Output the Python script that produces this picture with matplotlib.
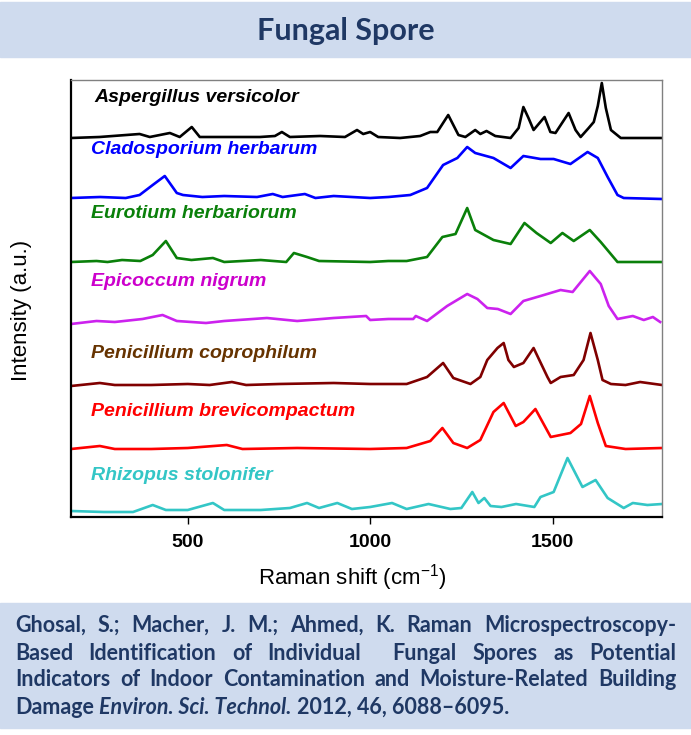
import matplotlib
matplotlib.use("Agg")
import matplotlib.pyplot as plt
from matplotlib.patches import Rectangle

# Raman shift (cm-1) / intensity points (a.u., before stacking)
asp_x = [180, 258, 368, 396, 451, 478, 511, 533, 698, 739, 758, 780, 863, 931, 964, 981,
         1000, 1022, 1082, 1137, 1165, 1184, 1214, 1242, 1261, 1288, 1302, 1319, 1343, 1385,
         1407, 1420, 1434, 1448, 1478, 1494, 1508, 1544, 1563, 1577, 1599, 1613, 1624, 1635,
         1646, 1660, 1687, 1800]
asp_y = [0, 1, 4, 1, 5, 1, 11, 1, 1, 2, 6, 1, 2, 1, 8, 4,
         6, 1, 0, 2, 6, 6, 23, 3, 1, 8, 4, 7, 2, 0,
         10, 31, 20, 8, 21, 6, 5, 25, 8, 1, 10, 16, 32, 55,
         30, 8, 0, 0]

blu_x = [180, 260, 330, 368, 404, 437, 470, 487, 540, 600, 690, 733, 760, 821, 850, 900,
         1000, 1050, 1110, 1156, 1200, 1239, 1266, 1288, 1338, 1385, 1420, 1467, 1503, 1549,
         1596, 1624, 1651, 1678, 1695, 1800]
blu_y = [0, 1, 0, 3, 13, 22, 5, 3, 1, 2, 1, 4, 1, 4, 0, 2,
         0, 1, 3, 10, 33, 40, 51, 45, 40, 30, 42, 39, 39, 34,
         46, 40, 21, 3, 0, -1]

grn_x = [180, 250, 280, 320, 370, 404, 440, 470, 510, 569, 600, 700, 770, 791, 827, 860,
         1000, 1050, 1100, 1156, 1198, 1234, 1266, 1288, 1338, 1385, 1423, 1456, 1495, 1527,
         1558, 1602, 1632, 1678, 1800]
grn_y = [0, 1, 0, 2, 1, 7, 21, 4, 2, 4, 0, 2, 0, 9, 5, 1,
         0, 1, 1, 5, 25, 28, 54, 32, 22, 18, 39, 29, 19, 29,
         21, 32, 20, 0, 0]

mag_x = [180, 250, 300, 376, 431, 470, 550, 600, 717, 800, 900, 989, 1000, 1050, 1118, 1125,
         1156, 1211, 1266, 1294, 1321, 1350, 1385, 1420, 1467, 1522, 1555, 1602, 1632, 1654,
         1678, 1720, 1750, 1775, 1795]
mag_y = [-2, 1, 0, 3, 7, 1, -1, 1, 4, 1, 4, 6, 2, 3, 3, 6,
         1, 16, 28, 23, 14, 13, 8, 21, 26, 32, 30, 51, 38, 16,
         3, 6, 2, 5, 0]

cop_x = [180, 259, 300, 400, 500, 560, 621, 660, 750, 900, 1000, 1100, 1156, 1200, 1228, 1275,
         1302, 1321, 1349, 1366, 1379, 1394, 1420, 1448, 1486, 1495, 1522, 1558, 1585, 1604,
         1624, 1637, 1660, 1700, 1740, 1800]
cop_y = [-1, 2, 0, 0, 1, 0, 3, 0, 1, 2, 1, 1, 8, 22, 7, 1,
         8, 25, 37, 42, 25, 18, 22, 37, 8, 2, 8, 10, 25, 52,
         25, 5, 1, 0, 3, 0]

brv_x = [180, 259, 300, 400, 500, 607, 650, 800, 1000, 1100, 1165, 1198, 1228, 1266, 1302, 1338,
         1366, 1399, 1420, 1453, 1495, 1549, 1578, 1602, 1624, 1646, 1700, 1800]
brv_y = [0, 3, 0, 0, 1, 4, 0, 1, 0, 1, 8, 21, 6, 1, 9, 37,
         46, 23, 27, 40, 12, 16, 25, 53, 26, 3, 0, 1]

rhz_x = [180, 270, 350, 404, 440, 500, 569, 600, 700, 780, 827, 860, 910, 950, 1000, 1060,
         1100, 1160, 1220, 1250, 1280, 1297, 1313, 1330, 1360, 1400, 1450, 1467, 1503, 1541,
         1582, 1618, 1651, 1695, 1720, 1760, 1800]
rhz_y = [1, 0, 0, 7, 2, 2, 9, 2, 2, 4, 9, 4, 9, 3, 5, 9,
         3, 8, 3, 4, 20, 9, 14, 6, 5, 8, 5, 15, 20, 54,
         25, 32, 14, 4, 9, 7, 8]

names = ["Aspergillus versicolor", "Cladosporium herbarum", "Eurotium herbariorum",
         "Epicoccum nigrum", "Penicillium coprophilum", "Penicillium brevicompactum",
         "Rhizopus stolonifer"]
xs = [asp_x, blu_x, grn_x, mag_x, cop_x, brv_x, rhz_x]
ys = [asp_y, blu_y, grn_y, mag_y, cop_y, brv_y, rhz_y]
offsets = [379, 319, 255, 195, 132, 68, 5]
line_colors = ["black", "#0000ff", "#0a800a", "#cc22ee", "#800000", "#ff0000", "#33c6c6"]
label_colors = ["black", "#0000ff", "#0a800a", "#cc00cc", "#663300", "#ff0000", "#33c6c6"]
label_xy = [(245, 420), (236, 367), (236, 303), (236, 235), (236, 164), (236, 106), (236, 41)]

plt.rcParams["font.family"] = "Liberation Sans"
plt.rcParams["mathtext.fontset"] = "custom"
plt.rcParams["mathtext.rm"] = "Liberation Sans"

W, H = 691, 735
fig = plt.figure(figsize=(W / 100, H / 100), dpi=100)
band = "#cfdbee"
navy = "#1f3864"

fig.add_artist(Rectangle((0, 1 - 57 / H), 1, 55 / H, transform=fig.transFigure,
                         color=band, zorder=0))
fig.add_artist(Rectangle((0, 1 - 728 / H), 1, 125 / H, transform=fig.transFigure,
                         color=band, zorder=0))
fig.text(0.5, 1 - 31 / H, "Fungal Spore", ha="center", va="center", fontsize=22,
         fontweight="bold", color=navy, family="Lato")

ax = fig.add_axes([71 / W, 1 - 517 / H, 591 / W, 437 / H])
for i in range(len(names)):
    ax.plot(xs[i], [v + offsets[i] for v in ys[i]], color=line_colors[i], lw=1.9,
            solid_joinstyle="round")
    ax.text(label_xy[i][0], label_xy[i][1], names[i], color=label_colors[i], fontsize=14,
            fontweight="bold", style="italic", va="center")

ax.set_xlim(180, 1800)
ax.set_ylim(0, 437)
ax.set_yticks([])
ax.set_xticks([500, 1000, 1500])
ax.tick_params(axis="x", direction="out", length=5, width=1, labelsize=14, pad=7)
for lab in ax.get_xticklabels():
    lab.set_fontweight("bold")
for s in ["left", "bottom"]:
    ax.spines[s].set_color("black")
    ax.spines[s].set_linewidth(1.6)
for s in ["top", "right"]:
    ax.spines[s].set_color("#808080")
    ax.spines[s].set_linewidth(1)

fig.text(22 / W, 1 - 310 / H, "Intensity (a.u.)", rotation=90, ha="center", va="center",
         fontsize=16)
fig.text(352 / W, 1 - 578 / H, "Raman shift (cm$^{-1}$)", ha="center", va="center",
         fontsize=16)

# justified caption
cap_lines = ["Ghosal, S.; Macher, J. M.; Ahmed, K. Raman Microspectroscopy-",
             "Based Identification of Individual  Fungal Spores as Potential",
             "Indicators of Indoor Contamination and Moisture-Related Building"]
last_line = [("Damage", "normal"), ("Environ. Sci. Technol.", "italic"),
             ("2012, 46, 6088\u20136095.", "normal")]
cap_y = [625, 653, 680, 707]
x_left, x_right = 15, 676
cap_kw = dict(fontsize=15.5, fontweight="bold", color=navy, family="Lato", va="center")

r = fig.canvas.get_renderer()


def text_w(s, **kw):
    t = fig.text(0, 0, s, **kw)
    w = t.get_window_extent(r).width
    t.remove()
    return w


for line, yy in zip(cap_lines, cap_y):
    words = line.split(" ")
    widths = [text_w(w, **cap_kw) if w else 0 for w in words]
    gap = (x_right - x_left - sum(widths)) / (len(words) - 1)
    x = x_left
    for w, wd in zip(words, widths):
        if w:
            fig.text(x / W, 1 - yy / H, w, **cap_kw)
        x += wd + gap

space = text_w("a a", **cap_kw) - text_w("aa", **cap_kw)
x = x_left
for piece, st in last_line:
    fig.text(x / W, 1 - cap_y[3] / H, piece, style=st, **cap_kw)
    x += text_w(piece, style=st, **cap_kw) + space

fig.savefig("out.png", dpi=100)
